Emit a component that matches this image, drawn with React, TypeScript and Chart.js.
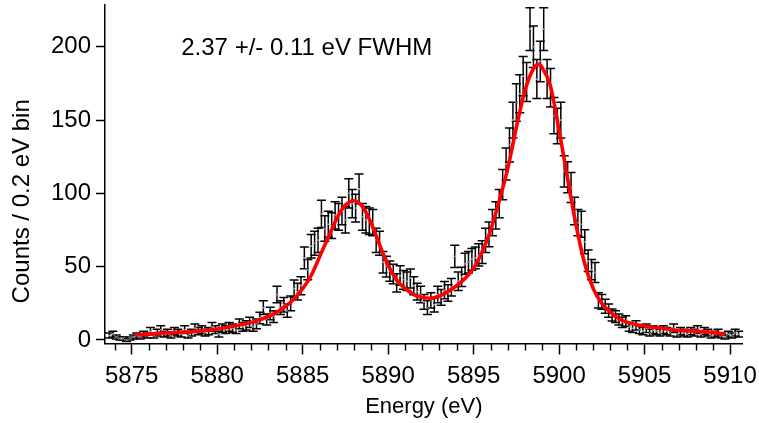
import React, { useEffect, useRef } from 'react';
import { Chart, registerables } from 'chart.js';

Chart.register(...registerables);

// Histogram: counts per 0.2 eV bin, first bin centre at 5873.7 eV
const binStart = 5873.7;
const binWidth = 0.2;
const counts = [
  3, 4, 2, 1, 1, 0, 1, 2, 3, 2,
  4, 3, 6, 3, 5, 7, 4, 5, 3, 6,
  5, 4, 7, 3, 5, 8, 6, 7, 5, 6,
  9, 7, 4, 8, 7, 9, 8, 7, 11, 9,
  10, 12, 9, 11, 15, 22, 14, 18, 16, 31,
  22, 24, 20, 25, 35, 33, 37, 56, 48, 64,
  66, 68, 86, 76, 79, 78, 85, 84, 88, 82,
  100, 93, 90, 103, 84, 82, 81, 80, 68, 66,
  53, 50, 47, 45, 39, 44, 41, 40, 42, 37,
  33, 31, 26, 22, 27, 24, 31, 29, 34, 32,
  36, 57, 40, 43, 52, 53, 55, 56, 58, 60,
  68, 72, 80, 85, 93, 106, 120, 133, 150, 162,
  168, 180, 176, 212, 200, 178, 190, 212, 178, 172,
  153, 146, 150, 115, 111, 104, 88, 80, 79, 67,
  54, 48, 46, 27, 26, 23, 20, 17, 16, 14,
  12, 13, 9, 8, 10, 7, 6, 8, 5, 7,
  6, 5, 7, 6, 5, 8, 4, 6, 5, 4,
  6, 5, 7, 4, 6, 5, 3, 4, 5, 3,
  2, 4, 3, 5, 4,
];

// Fit curve
const fitEnergy = [
  5875.2, 5876.0, 5876.5, 5877.0, 5878.0, 5879.0, 5880.0, 5881.0, 5882.0, 5883.0,
  5883.5, 5884.0, 5884.5, 5885.0, 5885.5, 5886.0, 5886.5, 5887.0, 5887.5, 5888.0,
  5888.5, 5889.0, 5889.5, 5890.0, 5890.5, 5891.0, 5891.5, 5892.0, 5892.5, 5893.0,
  5893.5, 5894.0, 5894.5, 5895.0, 5895.5, 5896.0, 5896.5, 5897.0, 5897.5, 5898.0,
  5898.5, 5898.8, 5899.0, 5899.5, 5900.0, 5900.5, 5901.0, 5901.5, 5902.0, 5902.5,
  5903.0, 5903.5, 5904.0, 5904.5, 5905.0, 5906.0, 5907.0, 5908.0, 5908.5, 5909.0,
  5909.7,
];
const fitCounts = [
  3.5, 3.8, 4.5, 4.8, 5.3, 6.2, 7.5, 9.5, 12, 16,
  19, 23, 28, 35, 44, 57, 70, 83, 92, 95,
  91, 80, 65, 51, 41, 35, 31, 29, 28.5, 30,
  33, 37, 42, 49, 60, 75, 95, 117, 145, 170,
  185, 188, 186, 173, 143, 110, 78, 52, 35, 25,
  19, 14.5, 12, 10.5, 9.5, 8, 6.5, 6, 5.5, 5,
  4,
];

const xMajorTicks = [5875, 5880, 5885, 5890, 5895, 5900, 5905, 5910];
const yTicks = [0, 50, 100, 150, 200];
const xRange = [5873.44, 5910.74];
const yRange = [-2.4, 228.5];
const annotationText = '2.37 +/- 0.11 eV FWHM';
const annotationPos = { x: 5877.9, y: 199 };
const yTitle = 'Counts / 0.2 eV bin';
const xTitle = 'Energy (eV)';

const FONT = '"Liberation Sans", Arial, Helvetica, sans-serif';
const FS = 24;

export default function App() {
  const ref = useRef<HTMLCanvasElement | null>(null);

  useEffect(() => {
    const canvas = ref.current;
    if (!canvas) return;
    const energies = counts.map((_, i) => +(binStart + i * binWidth).toFixed(2));
    const points = energies.map((e, i) => ({ x: e, y: counts[i] }));
    const fit = fitEnergy.map((e, i) => ({ x: e, y: fitCounts[i] }));

    const errorBars = {
      id: 'errorBars',
      beforeDatasetsDraw(chart: any) {
        const { ctx, scales, chartArea } = chart;
        const xs = scales.x, ys = scales.y;
        ctx.save();
        ctx.beginPath();
        ctx.rect(chartArea.left, 0, chartArea.right - chartArea.left + 6, chartArea.bottom);
        ctx.clip();
        ctx.strokeStyle = '#000';
        ctx.lineWidth = 1.5;
        energies.forEach((e, i) => {
          const c = counts[i];
          const err = Math.sqrt(Math.max(c, 1));
          const px = xs.getPixelForValue(e);
          const top = ys.getPixelForValue(c + err);
          const bot = ys.getPixelForValue(c - err);
          ctx.beginPath();
          ctx.moveTo(px, top);
          ctx.lineTo(px, bot);
          ctx.moveTo(px - 4.5, top);
          ctx.lineTo(px + 4.5, top);
          ctx.moveTo(px - 4.5, bot);
          ctx.lineTo(px + 4.5, bot);
          ctx.stroke();
        });
        ctx.restore();
      },
      afterDraw(chart: any) {
        const { ctx, scales, chartArea } = chart;
        const xs = scales.x, ys = scales.y;
        ctx.save();
        ctx.strokeStyle = '#000';
        ctx.lineWidth = 1.4;
        for (let v = Math.ceil(xRange[0]); v <= xRange[1]; v++) {
          if (xMajorTicks.includes(v)) continue;
          const px = Math.round(xs.getPixelForValue(v)) + 0.5;
          ctx.beginPath();
          ctx.moveTo(px, chartArea.bottom);
          ctx.lineTo(px, chartArea.bottom + 7);
          ctx.stroke();
        }
        ctx.fillStyle = '#000';
        ctx.font = `${FS}px ${FONT}`;
        ctx.textBaseline = 'middle';
        ctx.textAlign = 'left';
        ctx.fillText(annotationText, xs.getPixelForValue(annotationPos.x), ys.getPixelForValue(annotationPos.y));
        // y-axis title, centred a little below the axis midpoint as in the original
        ctx.translate(22, chartArea.top + (chartArea.bottom - chartArea.top) * 0.58);
        ctx.rotate(-Math.PI / 2);
        ctx.textAlign = 'center';
        ctx.fillText(yTitle, 0, 0);
        ctx.restore();
      },
    };

    const chart = new Chart(canvas, {
      type: 'scatter',
      data: {
        datasets: [
          {
            type: 'line',
            data: fit,
            borderColor: '#ff0000',
            borderWidth: 3.6,
            pointRadius: 0,
            fill: false,
            cubicInterpolationMode: 'monotone',
          } as any,
          {
            data: points,
            showLine: false,
            pointStyle: 'crossRot',
            pointRadius: 2,
            borderColor: '#9a9a9a',
            borderWidth: 1,
            backgroundColor: '#9a9a9a',
          },
        ],
      },
      options: {
        responsive: false,
        animation: false,
        layout: { padding: { top: 4, right: 16.3, left: 0, bottom: 0 } },
        plugins: { legend: { display: false }, tooltip: { enabled: false } },
        scales: {
          x: {
            type: 'linear',
            min: xRange[0],
            max: xRange[1],
            afterFit: (s: any) => { s.height = 79.5; s.paddingLeft = 0; s.paddingRight = 0; },
            afterBuildTicks: (s: any) => { s.ticks = xMajorTicks.map((v) => ({ value: v })); },
            border: { color: '#000', width: 1.5 },
            grid: { drawOnChartArea: false, drawTicks: true, tickLength: 11, tickColor: '#000', tickWidth: 1.5 },
            ticks: { color: '#000', font: { family: FONT, size: FS }, padding: 7, maxRotation: 0, autoSkip: false, callback: (v: any) => String(v) },
            title: { display: true, text: xTitle, color: '#000', font: { family: FONT, size: 22 }, padding: { top: 0, bottom: 2.8 } },
          },
          y: {
            type: 'linear',
            min: yRange[0],
            max: yRange[1],
            afterFit: (s: any) => { s.width = 105; s.paddingTop = 0; s.paddingBottom = 0; },
            afterBuildTicks: (s: any) => { s.ticks = yTicks.map((v) => ({ value: v })); },
            border: { color: '#000', width: 1.5 },
            grid: { drawOnChartArea: false, drawTicks: true, tickLength: 9, tickColor: '#000', tickWidth: 1.5 },
            ticks: { color: '#000', font: { family: FONT, size: FS }, padding: 5, callback: (v: any) => String(v) },
            title: { display: false },
          },
        },
      },
      plugins: [errorBars],
    });
    return () => chart.destroy();
  }, []);

  return (
    <div style={{ position: 'absolute', left: 0, top: 0, width: 759, height: 423, background: '#fff' }}>
      <canvas ref={ref} width={759} height={423} />
    </div>
  );
}
